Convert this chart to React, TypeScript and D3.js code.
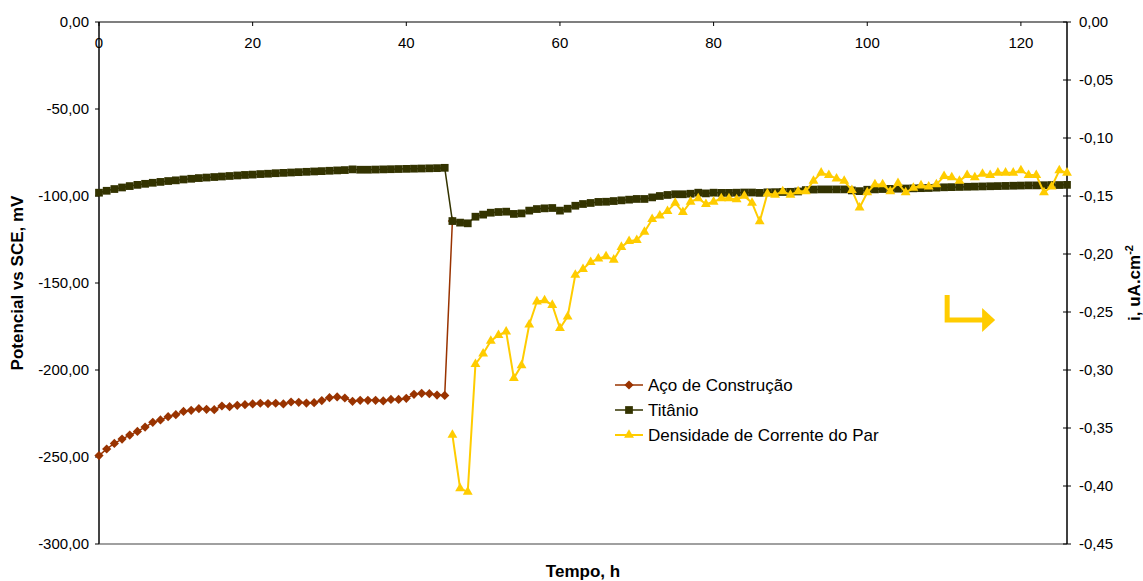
import React from 'react';
import * as d3 from 'd3';

// Tempo (h) ticks
const tempoTicks = [0, 20, 40, 60, 80, 100, 120];
const potencialTicks = [0, -50, -100, -150, -200, -250, -300];
const correnteTicks = [0, -0.05, -0.1, -0.15, -0.2, -0.25, -0.3, -0.35, -0.4, -0.45];

// Aço de Construção, hourly from t = 0
const acoStart = 0;
const acoValues = [
  -249.2, -245.4, -242.2, -239.7, -237.4, -235.3, -232.8, -230.1, -228.7, -226.8,
  -225.7, -223.8, -223.2, -222.2, -222.6, -222.8, -220.7, -221.1, -220.3, -219.9,
  -219.5, -219.1, -219.3, -219.1, -219.5, -218.4, -218.6, -219.0, -218.8, -217.6,
  -215.9, -215.5, -216.1, -218.0, -217.4, -217.4, -217.4, -217.8, -216.9, -216.9,
  -216.3, -214.0, -213.4, -213.6, -214.4, -214.6, -114.4,
];

// Titânio, hourly from t = 0
const titanioStart = 0;
const titanioValues = [
  -98.1, -97.0, -96.0, -95.1, -94.3, -93.6, -93.0, -92.4, -91.9, -91.4,
  -91.0, -90.5, -90.1, -89.7, -89.4, -89.1, -88.8, -88.5, -88.2, -87.9,
  -87.7, -87.4, -87.2, -86.9, -86.7, -86.5, -86.3, -86.1, -85.9, -85.7,
  -85.5, -85.3, -85.1, -84.7, -84.9, -84.9, -84.8, -84.7, -84.6, -84.5,
  -84.4, -84.3, -84.2, -84.1, -84.0, -83.8,
  -114.4, -115.3, -115.7, -111.9, -110.7, -109.6, -109.2, -109.0, -110.3, -110.0,
  -108.4, -107.5, -107.1, -106.9, -108.4, -107.3, -105.6, -104.6, -104.0, -103.4,
  -103.3, -102.9, -102.5, -102.1, -101.7, -101.7, -100.8, -100.0, -99.4, -99.0,
  -99.0, -98.7, -98.1, -98.5, -98.1,
  -98.2, -98.2, -98.1, -98.0, -98.0, -98.2, -97.9, -97.8, -97.7, -97.6,
  -97.4, -96.6, -96.3, -96.2, -96.2, -96.2, -96.2, -96.8, -97.2, -96.4,
  -96.2, -96.0, -95.9, -95.8, -95.7, -95.6, -95.5, -95.4, -95.2, -95.0,
  -94.9, -94.8, -94.7, -94.6, -94.5, -94.4, -94.3, -94.2, -94.1, -94.0,
  -93.9, -93.9, -93.8, -93.7, -93.7, -93.6,
];

// Densidade de Corrente do Par (uA.cm-2), hourly from t = 46
const densidadeStart = 46;
const densidadeValues = [
  -0.356, -0.402, -0.405, -0.295, -0.286, -0.275, -0.270, -0.267, -0.307, -0.296,
  -0.261, -0.241, -0.240, -0.244, -0.264, -0.254, -0.218, -0.213, -0.207, -0.204,
  -0.202, -0.205, -0.194, -0.189, -0.188, -0.181, -0.170, -0.167, -0.163, -0.156,
  -0.164, -0.155, -0.152, -0.157, -0.155,
  -0.152, -0.152, -0.153, -0.150, -0.156, -0.172, -0.148, -0.149, -0.146, -0.149,
  -0.146, -0.146, -0.137, -0.130, -0.132, -0.135, -0.137, -0.145, -0.160, -0.147,
  -0.140, -0.140, -0.146, -0.139, -0.147, -0.143, -0.141, -0.142, -0.140, -0.133,
  -0.134, -0.137, -0.132, -0.134, -0.131, -0.132, -0.130, -0.130, -0.130, -0.128,
  -0.132, -0.132, -0.147, -0.142, -0.128, -0.130,
];

const seriesNames = ['Aço de Construção', 'Titânio', 'Densidade de Corrente do Par'];
const seriesColors = ['#993300', '#333300', '#FFCC00'];

const W = 1143;
const H = 581;
const margin = { top: 22, right: 76, bottom: 37, left: 99 };
const font = 'Liberation Sans, Arial, sans-serif';

// Excel style: two decimals, comma separator, plain hyphen for minus
const fmt = (v: number) => {
  const s = d3.format('.2f')(Math.abs(v) < 1e-9 ? 0 : v);
  return s.replace('.', ',').replace('\u2212', '-');
};

export default function App() {
  const x = d3.scaleLinear().domain([0, 126]).range([margin.left, W - margin.right]);
  const yL = d3.scaleLinear().domain([-300, 0]).range([H - margin.bottom, margin.top]);
  const yR = d3.scaleLinear().domain([-0.45, 0]).range([H - margin.bottom, margin.top]);

  const x0 = margin.left;
  const x1 = W - margin.right;
  const y0 = margin.top;
  const y1 = H - margin.bottom;

  const aco = acoValues.map((v, i) => [acoStart + i, v] as [number, number]);
  const titanio = titanioValues.map((v, i) => [titanioStart + i, v] as [number, number]);
  const densidade = densidadeValues.map((v, i) => [densidadeStart + i, v] as [number, number]);

  const lineL = d3.line<[number, number]>().x((d) => x(d[0])).y((d) => yL(d[1]));
  const lineR = d3.line<[number, number]>().x((d) => x(d[0])).y((d) => yR(d[1]));

  const diamond = 'M0,-4.6L4.6,0L0,4.6L-4.6,0Z';
  const square = d3.symbol().type(d3.symbolSquare).size(60)() as string;
  const triangle = d3.symbol().type(d3.symbolTriangle).size(42)() as string;

  // legend position
  const lgX = 615;
  const lgY = 385;
  const lgStep = 25;

  // arrow annotation anchor (pointing to right axis)
  const ax = x(110.4);
  const ay = yR(-0.257);

  return (
    <svg width={W} height={H} style={{ position: 'absolute', left: 0, top: 0, background: '#fff' }}>
      <rect x={0} y={0} width={W} height={H} fill="#fff" />

      {/* plot frame */}
      <line x1={x0} x2={x1} y1={y1} y2={y1} stroke="#808080" strokeWidth={1.5} />
      <line x1={x0} x2={x0} y1={y0} y2={y1} stroke="#444" strokeWidth={2} />

      {/* left axis ticks */}
      {potencialTicks.map((t) => (
        <g key={'l' + t}>
          <line x1={x0 - 4} x2={x0} y1={yL(t)} y2={yL(t)} stroke="#000" />
          <text x={x0 - 10} y={yL(t)} dy="0.35em" textAnchor="end" fontFamily={font} fontSize={15} fill="#000">
            {fmt(t)}
          </text>
        </g>
      ))}

      {/* right axis */}
      <line x1={x1} x2={x1} y1={y0} y2={y1} stroke="#000" strokeWidth={1.5} />
      {correnteTicks.map((t) => (
        <g key={'r' + t}>
          <line x1={x1 - 4} x2={x1 + 4} y1={yR(t)} y2={yR(t)} stroke="#000" />
          <text x={x1 + 12} y={yR(t)} dy="0.35em" textAnchor="start" fontFamily={font} fontSize={15} fill="#000">
            {fmt(t)}
          </text>
        </g>
      ))}

      {/* top (time) axis */}
      <line x1={x0} x2={x1} y1={y0} y2={y0} stroke="#000" strokeWidth={1.2} />
      {tempoTicks.map((t) => (
        <g key={'b' + t}>
          <line x1={x(t)} x2={x(t)} y1={y0} y2={y0 + 4} stroke="#000" />
          <text x={x(t)} y={y0 + 26} textAnchor="middle" fontFamily={font} fontSize={15} fill="#000">
            {t}
          </text>
        </g>
      ))}

      {/* axis titles */}
      <text x={(x0 + x1) / 2} y={577} textAnchor="middle" fontFamily={font} fontSize={17} fontWeight="bold">
        Tempo, h
      </text>
      <text
        transform={`translate(23, ${(y0 + y1) / 2}) rotate(-90)`}
        textAnchor="middle"
        fontFamily={font}
        fontSize={17}
        fontWeight="bold"
      >
        Potencial vs SCE, mV
      </text>
      <text
        transform={`translate(1140, ${(y0 + y1) / 2}) rotate(-90)`}
        textAnchor="middle"
        fontFamily={font}
        fontSize={17}
        fontWeight="bold"
      >
        i, uA.cm
        <tspan fontSize={11} dy="-7">-2</tspan>
      </text>

      {/* series */}
      <path d={lineL(aco) || ''} fill="none" stroke={seriesColors[0]} strokeWidth={1.5} />
      {aco.map((d, i) => (
        <path key={'a' + i} d={diamond} transform={`translate(${x(d[0])},${yL(d[1])})`} fill={seriesColors[0]} />
      ))}

      <path d={lineL(titanio) || ''} fill="none" stroke={seriesColors[1]} strokeWidth={1.5} />
      {titanio.map((d, i) => (
        <path key={'t' + i} d={square} transform={`translate(${x(d[0])},${yL(d[1])})`} fill={seriesColors[1]} />
      ))}

      <path d={lineR(densidade) || ''} fill="none" stroke={seriesColors[2]} strokeWidth={2} />
      {densidade.map((d, i) => (
        <path key={'d' + i} d={triangle} transform={`translate(${x(d[0])},${yR(d[1])})`} fill={seriesColors[2]} />
      ))}

      {/* arrow annotation */}
      <g transform={`translate(${ax},${ay})`}>
        <path d="M0,-25 V0 H36" fill="none" stroke="#FFCC00" strokeWidth={5} strokeLinejoin="miter" />
        <path d="M35,-12 L48,0 L35,12 Z" fill="#FFCC00" />
      </g>

      {/* legend */}
      {seriesNames.map((name, i) => {
        const yy = lgY + i * lgStep;
        const sym = i === 0 ? diamond : i === 1 ? square : triangle;
        return (
          <g key={'lg' + i}>
            <line x1={lgX} x2={lgX + 28} y1={yy} y2={yy} stroke={seriesColors[i]} strokeWidth={i === 2 ? 2 : 1.5} />
            <path d={sym} transform={`translate(${lgX + 14},${yy})`} fill={seriesColors[i]} />
            <text x={lgX + 33} y={yy} dy="0.35em" fontFamily={font} fontSize={17} fill="#000">
              {name}
            </text>
          </g>
        );
      })}
    </svg>
  );
}
